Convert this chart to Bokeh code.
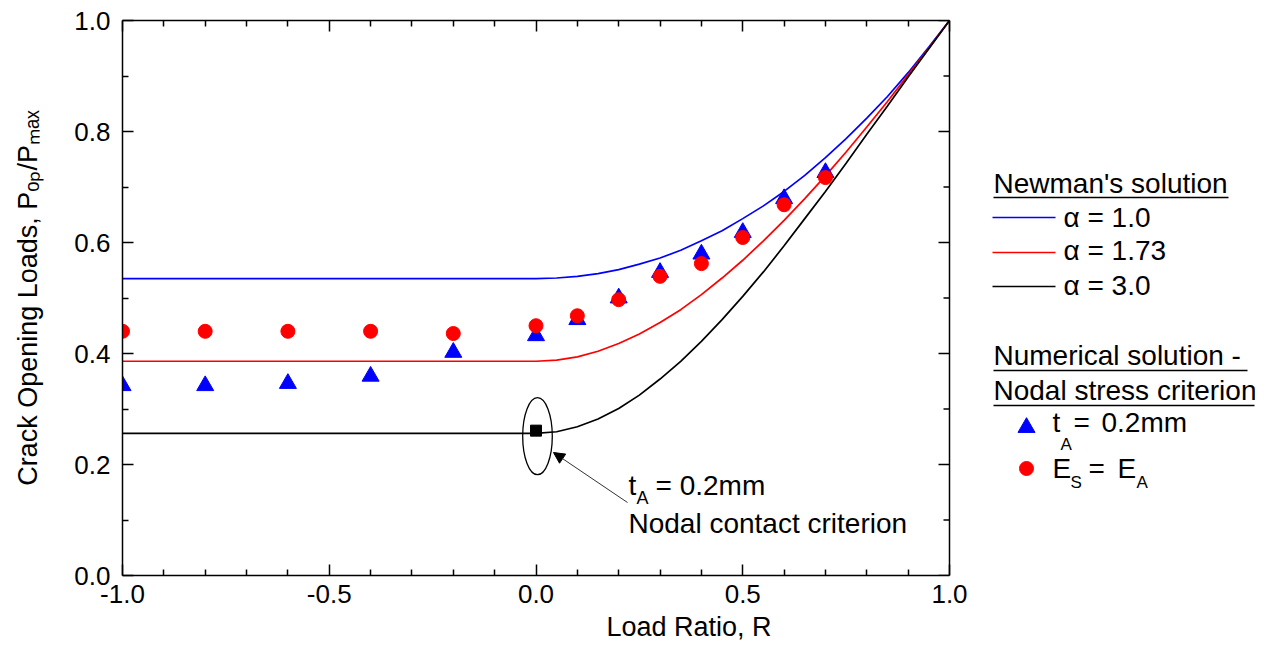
import numpy as np
from bokeh.plotting import figure
from bokeh.models import (Range1d, LinearAxis, FixedTicker, PrintfTickFormatter,
                          CustomJSTickFormatter, Label, Arrow, NormalHead, Span)
from bokeh.embed import file_html
from bokeh.resources import INLINE
from bokeh.core.properties import value

FONT = "Liberation Sans"

# ---------------- data ----------------
r_curve = [-1.0, -0.5, 0.0, 0.05, 0.10, 0.15, 0.20, 0.25, 0.30, 0.35, 0.40, 0.45,
           0.50, 0.55, 0.60, 0.65, 0.70, 0.75, 0.80, 0.85, 0.90, 0.95, 1.0]
newman_a10 = [0.535, 0.535, 0.535, 0.536, 0.539, 0.544, 0.551, 0.561, 0.572, 0.586, 0.603, 0.621,
              0.643, 0.666, 0.692, 0.721, 0.753, 0.787, 0.824, 0.863, 0.906, 0.952, 1.0]
newman_a173 = [0.386, 0.386, 0.386, 0.388, 0.394, 0.404, 0.418, 0.435, 0.456, 0.479, 0.506, 0.536,
               0.568, 0.603, 0.640, 0.679, 0.720, 0.763, 0.808, 0.854, 0.902, 0.950, 1.0]
newman_a30 = [0.256, 0.256, 0.256, 0.259, 0.268, 0.282, 0.301, 0.325, 0.354, 0.386, 0.422, 0.461,
              0.503, 0.547, 0.594, 0.643, 0.692, 0.743, 0.795, 0.846, 0.898, 0.949, 1.0]

r_num = [-1.0, -0.8, -0.6, -0.4, -0.2, 0.0, 0.1, 0.2, 0.3, 0.4, 0.5, 0.6, 0.7]
num_tA = [0.342, 0.342, 0.346, 0.359, 0.402, 0.432, 0.461, 0.500, 0.546, 0.579, 0.618, 0.679, 0.726]
num_ES = [0.440, 0.440, 0.440, 0.440, 0.436, 0.450, 0.468, 0.497, 0.539, 0.562, 0.609, 0.668, 0.717]

nodal_contact_r = [0.0]
nodal_contact_val = [0.261]

x_major = [-1.0, -0.5, 0.0, 0.5, 1.0]
y_major = [0.0, 0.2, 0.4, 0.6, 0.8, 1.0]
x_minor = [-0.9, -0.8, -0.7, -0.6, -0.4, -0.3, -0.2, -0.1, 0.1, 0.2, 0.3, 0.4, 0.6, 0.7, 0.8, 0.9]
y_minor = [0.1, 0.3, 0.5, 0.7, 0.9]

legend_lines = ["α = 1.0", "α = 1.73", "α = 3.0"]
legend_headers = ["Newman's solution", "Numerical solution -", "Nodal stress criterion"]

BLUE = "#0000ff"
RED = "#ff0000"

# ---------------- layout constants (canvas pixels) ----------------
LEFT, TOP, FRAME_W, FRAME_H = 122, 20, 1133, 555
X_AT_ONE = 949                     # canvas x of R = 1.0
PX_PER_UNIT = (X_AT_ONE - LEFT) / 2.0
x_end = 1.0 + (LEFT + FRAME_W - X_AT_ONE) / PX_PER_UNIT

p = figure(frame_width=FRAME_W, frame_height=FRAME_H,
           x_range=Range1d(-1, x_end), y_range=Range1d(0, 1),
           output_backend="svg", toolbar_location=None,
           min_border_left=LEFT, min_border_right=0, min_border_top=TOP, min_border_bottom=70,
           background_fill_color="white", border_fill_color="white")
# pixel-coordinate ranges for the legend (mapped onto canvas pixels)
p.extra_x_ranges = {"px": Range1d(LEFT, LEFT + FRAME_W)}
p.extra_y_ranges = {"px": Range1d(TOP + FRAME_H, TOP)}
p.grid.visible = False
p.outline_line_color = None

xticker = FixedTicker(ticks=x_major, minor_ticks=x_minor)
yticker = FixedTicker(ticks=y_major, minor_ticks=y_minor)


def style_axis(ax):
    ax.axis_line_width = 1.5
    ax.axis_line_color = "black"
    ax.major_tick_in = 11
    ax.major_tick_out = 0
    ax.minor_tick_in = 6
    ax.minor_tick_out = 0
    ax.major_tick_line_width = 1.5
    ax.minor_tick_line_width = 1.5
    ax.major_tick_line_color = "black"
    ax.minor_tick_line_color = "black"
    ax.major_label_text_font = FONT
    ax.major_label_text_font_size = "26px"
    ax.major_label_text_color = "black"
    ax.axis_label_text_font = FONT
    ax.axis_label_text_font_size = "27px"
    ax.axis_label_text_font_style = "normal"
    ax.axis_label_text_color = "black"


p.xaxis.ticker = xticker
p.yaxis.ticker = yticker
p.xaxis.formatter = PrintfTickFormatter(format="%.1f")
p.yaxis.formatter = PrintfTickFormatter(format="%.1f")
style_axis(p.xaxis[0])
style_axis(p.yaxis[0])
p.xaxis.bounds = (-1, 1)
p.xaxis.major_label_standoff = 9
p.yaxis.major_label_standoff = 12
p.xaxis.axis_label = "Load Ratio, R"
p.xaxis.axis_label_standoff = 6
p.yaxis.axis_label = "Crack Opening Loads, P\u2092\u209a/P\u2098\u2090\u2093"
p.yaxis.axis_label_standoff = 28

top_ax = LinearAxis(ticker=xticker, formatter=CustomJSTickFormatter(code="return ''"),
                    bounds=(-1, 1))
style_axis(top_ax)
top_ax.major_label_standoff = 0
p.add_layout(top_ax, "above")

# right border of the plot box at R = 1, with inward ticks
p.add_layout(Span(location=1.0, dimension="height", line_color="black", line_width=1.5))
p.segment(x0=[X_AT_ONE] * len(y_major), y0=y_major, x1=[X_AT_ONE - 11] * len(y_major), y1=y_major,
          x_range_name="px", line_color="black", line_width=1.5)
p.segment(x0=[X_AT_ONE] * len(y_minor), y0=y_minor, x1=[X_AT_ONE - 6] * len(y_minor), y1=y_minor,
          x_range_name="px", line_color="black", line_width=1.5)

# Newman's curves
p.line(r_curve, newman_a10, line_color=BLUE, line_width=1.7)
p.line(r_curve, newman_a173, line_color=RED, line_width=1.7)
p.line(r_curve, newman_a30, line_color="black", line_width=1.7)

# numerical results
p.scatter(r_num, num_tA, marker="triangle", size=17, fill_color=BLUE, line_color=BLUE)
p.scatter(r_num, num_ES, marker="circle", size=14, fill_color=RED, line_color=RED)

# nodal contact criterion point + ellipse + arrow
p.scatter(nodal_contact_r, nodal_contact_val, marker="square", size=11,
          fill_color="black", line_color="black")
p.ellipse(x=[0.0036], y=[0.251], width=[0.0716], height=[0.139],
          fill_color=None, line_color="black", line_width=1.3)
p.add_layout(Arrow(end=NormalHead(size=11, fill_color="black", line_color="black"),
                   x_start=0.2213, y_start=0.1315, x_end=0.0423, y_end=0.2216,
                   line_color="#333333", line_width=1))

ann_x, ann_y1, ann_y2 = 0.2237, 0.1622, 0.0937
common = dict(text_font=FONT, text_color="black", text_align="left", text_baseline="alphabetic")
p.add_layout(Label(x=ann_x, y=ann_y1, text="t", text_font_size="28px", **common))
p.add_layout(Label(x=ann_x, y=ann_y1, x_offset=8, y_offset=-13, text="A", text_font_size="18px", **common))
p.add_layout(Label(x=ann_x, y=ann_y1, x_offset=27, text="= 0.2mm", text_font_size="28px", **common))
p.add_layout(Label(x=ann_x, y=ann_y2, text="Nodal contact criterion", text_font_size="28px", **common))

# ---------------- legend (canvas pixel coordinates) ----------------
px = dict(x_range_name="px", y_range_name="px")
big = dict(text_font=value(FONT), text_font_size="28px", text_color="black",
           text_align="left", text_baseline="alphabetic")
small = dict(text_font=value(FONT), text_font_size="17px", text_color="black",
             text_align="left", text_baseline="alphabetic")

p.text(x=[993, 993, 993], y=[183, 355, 390], text=legend_headers, **big, **px)
p.segment(x0=[993, 993, 993], y0=[197, 370, 405], x1=[1228, 1247, 1254], y1=[197, 370, 405],
          line_color="black", line_width=1.5, **px)

p.segment(x0=[992, 992, 992], y0=[217, 252, 286], x1=[1055, 1055, 1055], y1=[217, 252, 286],
          line_color=[BLUE, RED, "black"], line_width=1.7, **px)
p.text(x=[1063, 1063, 1063], y=[217, 250, 285], text=legend_lines, **big, **px)

p.scatter(x=[1026], y=[427], marker="triangle", size=17, fill_color=BLUE, line_color=BLUE, **px)
p.scatter(x=[1026], y=[468], marker="circle", size=14, fill_color=RED, line_color=RED, **px)
p.text(x=[1052, 1073, 1101], y=[422, 422, 422], text=["t", "=", "0.2mm"], **big, **px)
p.text(x=[1060], y=[444], text=["A"], **small, **px)
p.text(x=[1052, 1088, 1117], y=[468, 468, 468], text=["E", "=", "E"], **big, **px)
p.text(x=[1070, 1136], y=[482, 482], text=["S", "A"], **small, **px)

open("out.html", "w").write(file_html(p, INLINE))
